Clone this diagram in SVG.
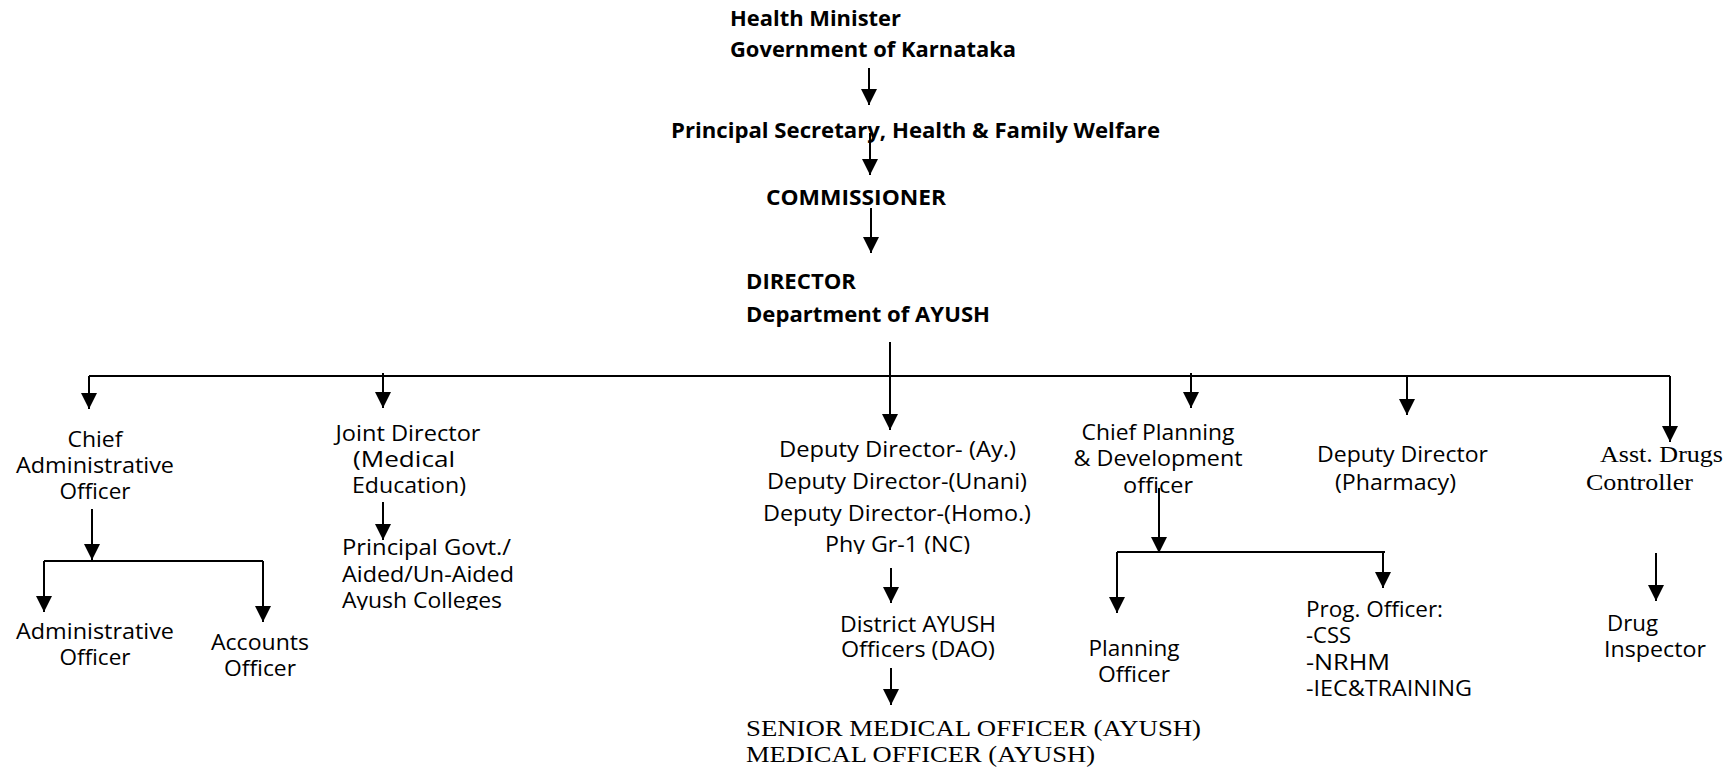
<svg xmlns="http://www.w3.org/2000/svg" width="1732" height="771" viewBox="0 0 1732 771">
<style>
.b{font-family:"Open Sans","Liberation Sans",sans-serif;font-weight:bold;font-size:22px;fill:#000}
.r{font-family:"Open Sans","Liberation Sans",sans-serif;font-size:22px;fill:#000}
.s{font-family:"Liberation Serif","Times New Roman",serif;font-size:24px;fill:#000}
.m{text-anchor:middle}
.c line,.c path{stroke:#000;stroke-width:2;fill:none}
.a{marker-end:url(#ah)}
</style>
<defs>
<marker id="ah" markerUnits="userSpaceOnUse" markerWidth="17" markerHeight="17" refX="16" refY="8" orient="auto"><path d="M0,0 L16,8 L0,16 z" fill="#000"/></marker>
<clipPath id="cpPhy"><rect x="0" y="0" width="1732" height="554"/></clipPath>
<clipPath id="cpAy"><rect x="0" y="0" width="1732" height="610"/></clipPath>
</defs>
<rect width="1732" height="771" fill="#fff"/>

<g id="connectors" class="c">
<line class="a" x1="869" y1="68" x2="869" y2="105"/>
<line class="a" x1="870" y1="133" x2="870" y2="175"/>
<line class="a" x1="871" y1="208" x2="871" y2="253"/>
<line class="a" x1="890" y1="342" x2="890" y2="430"/>
<line x1="89" y1="376" x2="1670" y2="376"/>
<line class="a" x1="89" y1="376" x2="89" y2="409"/>
<line class="a" x1="383" y1="373" x2="383" y2="408"/>
<line class="a" x1="1191" y1="373" x2="1191" y2="408"/>
<line class="a" x1="1407" y1="376" x2="1407" y2="415"/>
<line class="a" x1="1670" y1="376" x2="1670" y2="442"/>
<line class="a" x1="92" y1="509" x2="92" y2="560"/>
<line x1="44" y1="561" x2="263" y2="561"/>
<line class="a" x1="44" y1="561" x2="44" y2="612"/>
<line class="a" x1="263" y1="561" x2="263" y2="622"/>
<line class="a" x1="383" y1="502" x2="383" y2="540"/>
<line class="a" x1="891" y1="568" x2="891" y2="603"/>
<line class="a" x1="891" y1="668" x2="891" y2="705"/>
<line class="a" x1="1159" y1="488" x2="1159" y2="553"/>
<line x1="1117" y1="552" x2="1385" y2="552"/>
<line class="a" x1="1117" y1="552" x2="1117" y2="613"/>
<line class="a" x1="1383" y1="552" x2="1383" y2="588"/>
<line class="a" x1="1656" y1="553" x2="1656" y2="601"/>
</g>

<g id="health-minister">
<text class="b" x="730" y="26" textLength="171" lengthAdjust="spacingAndGlyphs">Health Minister</text>
<text class="b" x="730" y="57" textLength="286" lengthAdjust="spacingAndGlyphs">Government of Karnataka</text>
</g>
<g id="principal-secretary">
<text class="b" x="671" y="138" textLength="489" lengthAdjust="spacingAndGlyphs">Principal Secretary, Health &amp; Family Welfare</text>
</g>
<g id="commissioner">
<text class="b" x="766" y="205" textLength="180" lengthAdjust="spacingAndGlyphs">COMMISSIONER</text>
</g>
<g id="director">
<text class="b" x="746" y="289" textLength="110" lengthAdjust="spacingAndGlyphs">DIRECTOR</text>
<text class="b" x="746" y="322" textLength="244" lengthAdjust="spacingAndGlyphs">Department of AYUSH</text>
</g>

<g id="chief-admin-officer">
<text class="r m" x="95" y="447" textLength="55" lengthAdjust="spacingAndGlyphs">Chief</text>
<text class="r m" x="95" y="473" textLength="158" lengthAdjust="spacingAndGlyphs">Administrative</text>
<text class="r m" x="95" y="499" textLength="71" lengthAdjust="spacingAndGlyphs">Officer</text>
</g>
<g id="administrative-officer">
<text class="r m" x="95" y="639" textLength="158" lengthAdjust="spacingAndGlyphs">Administrative</text>
<text class="r m" x="95" y="665" textLength="71" lengthAdjust="spacingAndGlyphs">Officer</text>
</g>
<g id="accounts-officer">
<text class="r m" x="260" y="650" textLength="98" lengthAdjust="spacingAndGlyphs">Accounts</text>
<text class="r m" x="260" y="676" textLength="72" lengthAdjust="spacingAndGlyphs">Officer</text>
</g>

<g id="joint-director">
<text class="r m" x="408" y="441" textLength="145" lengthAdjust="spacingAndGlyphs">Joint Director</text>
<text class="r m" x="404" y="467" textLength="102" lengthAdjust="spacingAndGlyphs">(Medical</text>
<text class="r m" x="409" y="493" textLength="114" lengthAdjust="spacingAndGlyphs">Education)</text>
</g>
<g id="principal-colleges" clip-path="url(#cpAy)">
<text class="r" x="342" y="555" textLength="169" lengthAdjust="spacingAndGlyphs">Principal Govt./</text>
<text class="r" x="342" y="582" textLength="172" lengthAdjust="spacingAndGlyphs">Aided/Un-Aided</text>
<text class="r" x="342" y="608" textLength="160" lengthAdjust="spacingAndGlyphs">Ayush Colleges</text>
</g>

<g id="deputy-directors" clip-path="url(#cpPhy)">
<text class="r m" x="897.5" y="457" textLength="237" lengthAdjust="spacingAndGlyphs">Deputy Director- (Ay.)</text>
<text class="r m" x="897" y="489" textLength="260" lengthAdjust="spacingAndGlyphs">Deputy Director-(Unani)</text>
<text class="r m" x="897" y="521" textLength="268" lengthAdjust="spacingAndGlyphs">Deputy Director-(Homo.)</text>
<text class="r m" x="897.5" y="552" textLength="145" lengthAdjust="spacingAndGlyphs">Phy Gr-1 (NC)</text>
</g>
<g id="district-ayush-officers">
<text class="r m" x="918" y="632" textLength="156" lengthAdjust="spacingAndGlyphs">District AYUSH</text>
<text class="r m" x="918" y="657" textLength="154" lengthAdjust="spacingAndGlyphs">Officers (DAO)</text>
</g>
<g id="medical-officers">
<text class="s" x="746" y="736" textLength="455" lengthAdjust="spacingAndGlyphs">SENIOR MEDICAL OFFICER (AYUSH)</text>
<text class="s" x="746" y="762" textLength="349" lengthAdjust="spacingAndGlyphs">MEDICAL OFFICER (AYUSH)</text>
</g>

<g id="chief-planning-officer">
<text class="r m" x="1158" y="440" textLength="153" lengthAdjust="spacingAndGlyphs">Chief Planning</text>
<text class="r m" x="1158" y="466" textLength="169" lengthAdjust="spacingAndGlyphs">&amp; Development</text>
<text class="r m" x="1158" y="493" textLength="70" lengthAdjust="spacingAndGlyphs">officer</text>
</g>
<g id="planning-officer">
<text class="r m" x="1134" y="656" textLength="91" lengthAdjust="spacingAndGlyphs">Planning</text>
<text class="r m" x="1134" y="682" textLength="72" lengthAdjust="spacingAndGlyphs">Officer</text>
</g>
<g id="prog-officer">
<text class="r" x="1306" y="617" textLength="137" lengthAdjust="spacingAndGlyphs">Prog. Officer:</text>
<text class="r" x="1306" y="643" textLength="45" lengthAdjust="spacingAndGlyphs">-CSS</text>
<text class="r" x="1306" y="670" textLength="84" lengthAdjust="spacingAndGlyphs">-NRHM</text>
<text class="r" x="1306" y="696" textLength="166" lengthAdjust="spacingAndGlyphs">-IEC&amp;TRAINING</text>
</g>

<g id="deputy-director-pharmacy">
<text class="r m" x="1402.5" y="462" textLength="171" lengthAdjust="spacingAndGlyphs">Deputy Director</text>
<text class="r m" x="1395.5" y="490" textLength="121" lengthAdjust="spacingAndGlyphs">(Pharmacy)</text>
</g>
<g id="asst-drugs-controller">
<text class="s" x="1600" y="462" textLength="123" lengthAdjust="spacingAndGlyphs">Asst. Drugs</text>
<text class="s" x="1586" y="490" textLength="107" lengthAdjust="spacingAndGlyphs">Controller</text>
</g>
<g id="drug-inspector">
<text class="r" x="1607" y="631" textLength="51" lengthAdjust="spacingAndGlyphs">Drug</text>
<text class="r" x="1604" y="657" textLength="102" lengthAdjust="spacingAndGlyphs">Inspector</text>
</g>
</svg>
